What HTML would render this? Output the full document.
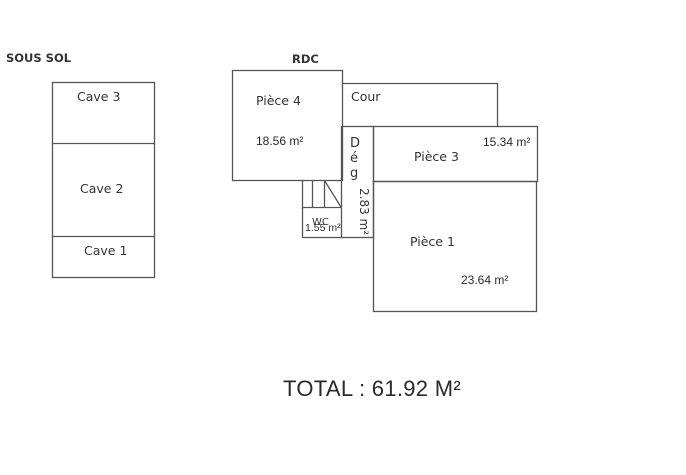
<!DOCTYPE html>
<html><head><meta charset="utf-8"><style>
html,body{margin:0;padding:0;background:#fff;}
svg{display:block;}
text{font-family:"Liberation Sans",sans-serif;fill:#2a2a2a;}
.v{font-family:"DejaVu Sans",sans-serif;fill:#333;}
</style></head><body>
<svg width="686" height="475" viewBox="0 0 686 475" xmlns="http://www.w3.org/2000/svg">
<g fill="none" stroke="#555" stroke-width="1.3">
<rect x="52.5" y="82.5" width="102" height="195"/>
<line x1="52" y1="143.5" x2="155" y2="143.5"/>
<line x1="52" y1="236.5" x2="155" y2="236.5"/>
<rect x="232.5" y="70.5" width="110" height="110"/>
<polyline points="342.5,83.5 497.5,83.5 497.5,126.5"/>
<rect x="341.5" y="126.5" width="32" height="111"/>
<rect x="373.5" y="126.5" width="164" height="55"/>
<rect x="373.5" y="181.5" width="163" height="130"/>
<polyline points="302.5,180.5 302.5,237.5 341.5,237.5"/>
<line x1="302" y1="207.5" x2="341" y2="207.5"/>
<line x1="312.5" y1="180" x2="312.5" y2="207"/>
<line x1="324.5" y1="180" x2="324.5" y2="207"/>
<line x1="324.5" y1="180.5" x2="341" y2="207"/>
</g>
<text class="v" x="6" y="62" font-size="11.5" font-weight="bold">SOUS SOL</text>
<text class="v" x="292" y="63" font-size="11.5" font-weight="bold">RDC</text>
<text class="v" x="77" y="101" font-size="12.5">Cave 3</text>
<text class="v" x="80" y="193" font-size="12.5">Cave 2</text>
<text class="v" x="84" y="255" font-size="12.5">Cave 1</text>
<text class="v" x="256" y="105" font-size="12.5">Pièce 4</text>
<text x="256" y="145" font-size="12">18.56 m²</text>
<text class="v" x="351" y="101" font-size="12.5">Cour</text>
<text class="v" x="350" y="147" font-size="13">D</text>
<text class="v" x="350" y="162" font-size="13">é</text>
<text class="v" x="350" y="177" font-size="13">g</text>
<text class="v" transform="translate(360,188) rotate(90)" font-size="12">2.83 m²</text>
<text class="v" x="414" y="161" font-size="12.5">Pièce 3</text>
<text x="483" y="146" font-size="12">15.34 m²</text>
<text class="v" x="312" y="225" font-size="10">WC</text>
<text x="305" y="231" font-size="10.5">1.55 m²</text>
<text class="v" x="410" y="246" font-size="12.5">Pièce 1</text>
<text x="461" y="284" font-size="12">23.64 m²</text>
<text x="283" y="396" font-size="22" fill="#111" letter-spacing="0.3">TOTAL : 61.92 M²</text>
</svg>
</body></html>
